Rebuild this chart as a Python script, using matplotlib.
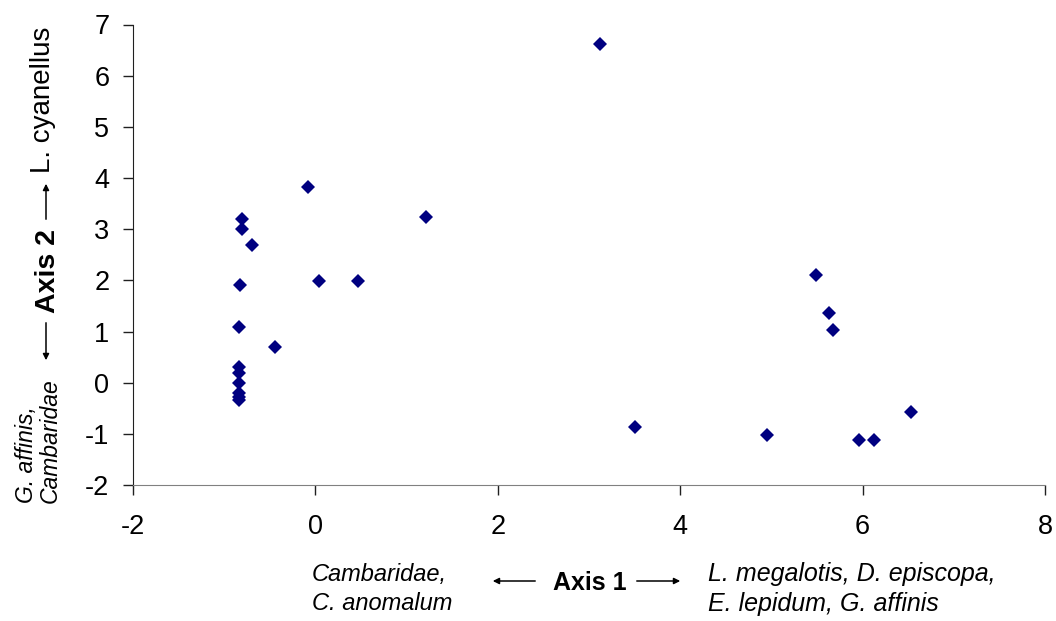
import matplotlib
matplotlib.use("Agg")
import matplotlib.pyplot as plt
from matplotlib.patches import FancyArrowPatch

plt.rcParams['font.family'] = ['Liberation Sans', 'DejaVu Sans']
plt.rcParams['axes.unicode_minus'] = False

# ordination scores
axis1 = [3.12, -0.08, -0.81, -0.81, -0.70, -0.83, 1.21, 0.04, 0.47, -0.84, -0.44,
         -0.84, -0.84, -0.84, -0.84, -0.84, -0.84, 3.50, 4.95, 5.49, 5.63, 5.68,
         5.96, 6.12, 6.53]
axis2 = [6.61, 3.83, 3.20, 3.00, 2.69, 1.91, 3.23, 1.99, 1.99, 1.09, 0.70,
         0.31, 0.19, 0.00, -0.20, -0.28, -0.33, -0.86, -1.02, 2.11, 1.37, 1.02,
         -1.13, -1.13, -0.58]

xticks = [-2, 0, 2, 4, 6, 8]
yticks = [-2, -1, 0, 1, 2, 3, 4, 5, 6, 7]

W, H = 1056, 621
fig = plt.figure(figsize=(W / 100, H / 100), dpi=100)
ax = fig.add_axes([133 / W, 1 - 485 / H, (1045 - 133) / W, (485 - 24.5) / H])

ax.plot(axis1, axis2, linestyle='none', marker='D', markersize=7,
        color='#000080', markeredgewidth=0)

ax.set_xlim(-2, 8)
ax.set_ylim(-2, 7)
ax.set_xticks(xticks)
ax.set_yticks(yticks)
ax.spines['top'].set_visible(False)
ax.spines['right'].set_visible(False)
ax.spines['left'].set_color('#202020')
ax.spines['bottom'].set_color('#808080')
ax.tick_params(axis='both', direction='out', length=7, width=1, labelsize=19.5)
ax.tick_params(axis='x', pad=14, color='#202020')
ax.tick_params(axis='y', pad=10, color='#202020')


def fx(px):
    return px / W


def fy(py):
    return 1 - py / H


def arrow(x0, y0, x1, y1):
    a = FancyArrowPatch((fx(x0), fy(y0)), (fx(x1), fy(y1)), transform=fig.transFigure,
                        arrowstyle='-|>', mutation_scale=9, lw=1.1, color='black')
    fig.add_artist(a)


# x axis annotation
fig.text(fx(312), fy(589), 'Cambaridae,\nC. anomalum', style='italic', fontsize=17,
         ha='left', va='center', linespacing=1.35)
fig.text(fx(590), fy(583), 'Axis 1', fontweight='bold', fontsize=18, ha='center', va='center')
arrow(538, 581, 490, 581)
arrow(634, 581, 683, 581)
fig.text(fx(708), fy(589), 'L. megalotis, D. episcopa,\nE. lepidum, G. affinis',
         style='italic', fontsize=18, ha='left', va='center', linespacing=1.3)

# y axis annotation
fig.text(fx(43), fy(100), 'L. cyanellus', fontsize=20, rotation=90, ha='center', va='center')
arrow(46, 222, 46, 181)
fig.text(fx(48), fy(271), 'Axis 2', fontweight='bold', fontsize=20.5, rotation=90,
         ha='center', va='center')
arrow(46, 320, 46, 363)
fig.text(fx(38), fy(503), 'G. affinis,\nCambaridae', style='italic', fontsize=16.5,
         rotation=90, ha='center', va='bottom', multialignment='left', linespacing=1.05)

fig.savefig('out.png', dpi=100)
